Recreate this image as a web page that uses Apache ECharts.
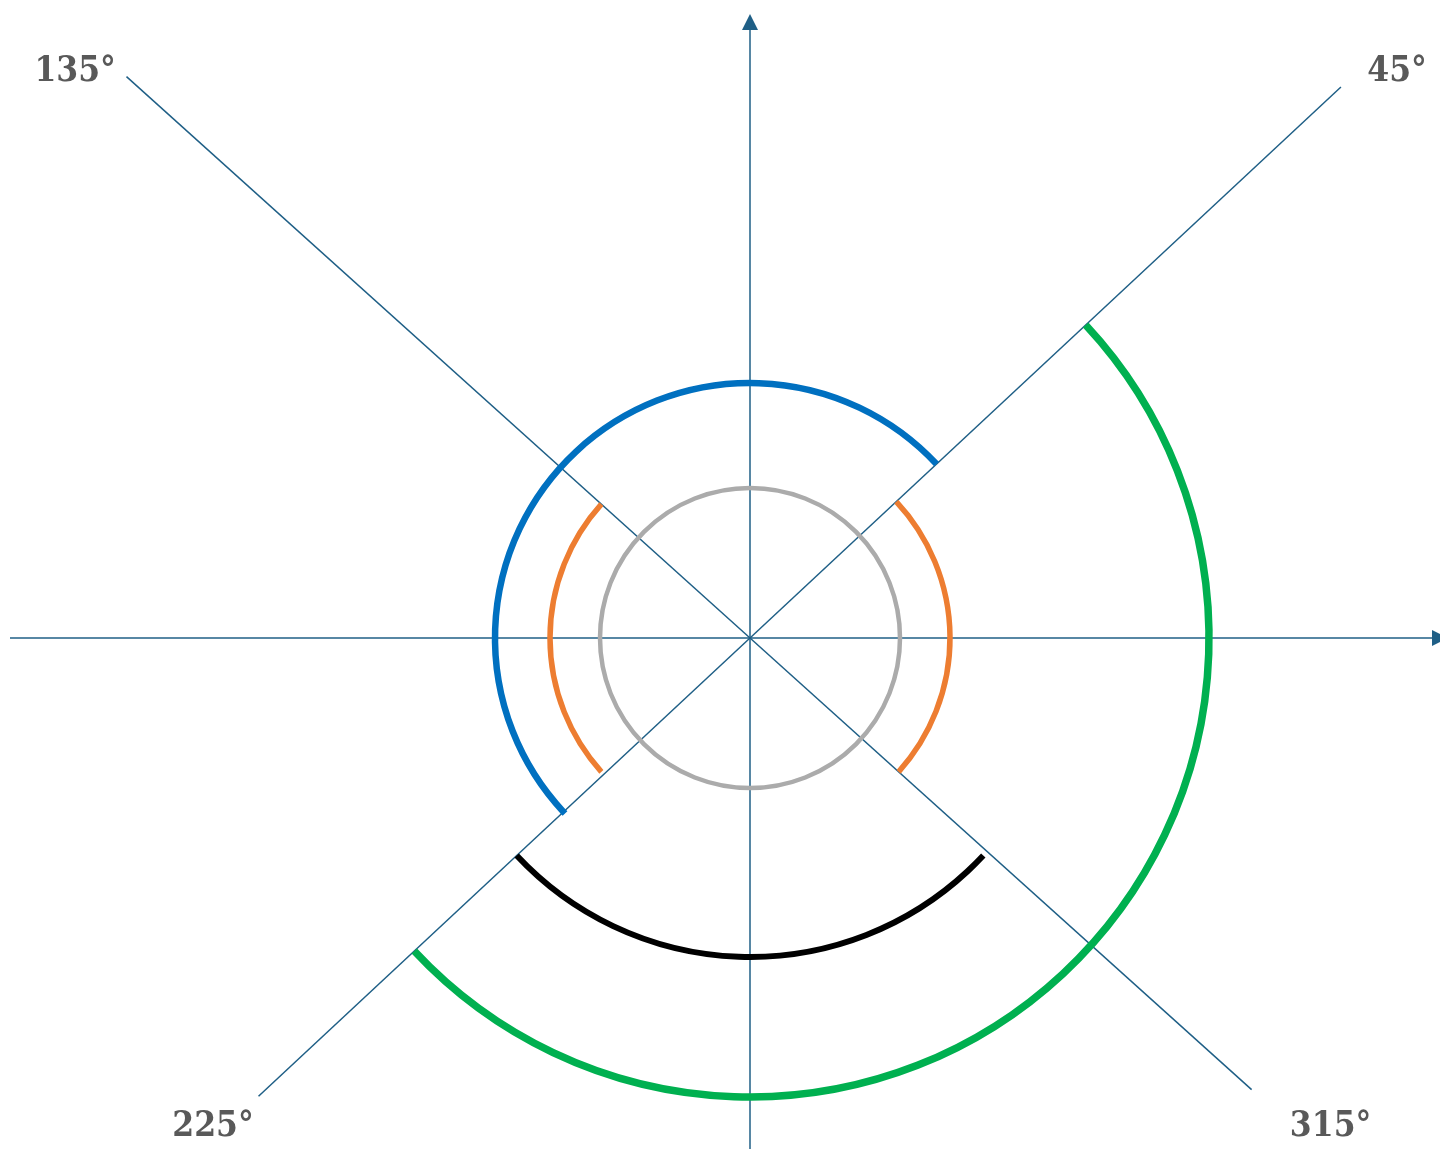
<!DOCTYPE html>
<html>
<head>
<meta charset="utf-8">
<script src="https://cdn.jsdelivr.net/npm/echarts@6/dist/echarts.min.js"></script>
<style>
  html, body { margin: 0; padding: 0; background: #fff; }
  #chart { width: 1440px; height: 1149px; }
</style>
</head>
<body>
<div id="chart"></div>
<script>
// axis rays from the origin: angle (deg, counterclockwise from +x) and length
const rayAngles = [0, 43, 90, 138, 180, 223, 270, 318];
const rayLengths = [698, 808, 624, 839, 740, 672, 511, 675];
const rayArrow = [true, false, true, false, false, false, false, false];

// arcs: radius, start angle, end angle (deg, counterclockwise)
const arcRadius = [150, 200, 200, 255, 319, 459];
const arcFrom = [0, -42, 138, 43, 223, -137];
const arcTo = [360, 43, 222, 223.5, 317, 43];
const arcColors = ["#ababab", "#ed7d31", "#ed7d31", "#0070c0", "#000000", "#00b050"];
const arcWidths = [4.5, 5.5, 5.5, 6.5, 6, 7.5];

// angle labels
const labelText = ["45°", "135°", "225°", "315°"];
const labelAngle = [41.2, 140, 222.3, 319.9];
const labelRadius = [860, 881, 726, 759];

const AXIS = "#1f5f86";
const ARROW = 16;

const chart = echarts.init(document.getElementById("chart"));

chart.setOption({
  animation: false,
  polar: { center: [750, 638], radius: 1000 },
  angleAxis: { type: "value", min: 0, max: 360, startAngle: 0, clockwise: false, show: false },
  radiusAxis: { type: "value", min: 0, max: 1000, show: false },
  series: [
    {
      type: "custom",
      coordinateSystem: "polar",
      silent: true,
      data: rayAngles.map((a, i) => [rayLengths[i], a]),
      renderItem(params, api) {
        const i = params.dataIndex;
        const len = api.value(0);
        const ang = api.value(1);
        const o = api.coord([0, ang]);
        const tip = api.coord([len, ang]);
        const children = [];
        if (rayArrow[i]) {
          const b = api.coord([len - ARROW, ang]);
          const dx = tip[0] - b[0];
          const dy = tip[1] - b[1];
          const L = Math.hypot(dx, dy);
          const nx = (-dy / L) * 8;
          const ny = (dx / L) * 8;
          children.push({
            type: "line",
            shape: { x1: o[0], y1: o[1], x2: b[0], y2: b[1] },
            style: { stroke: AXIS, lineWidth: 1.5 }
          });
          children.push({
            type: "polygon",
            shape: { points: [[tip[0], tip[1]], [b[0] + nx, b[1] + ny], [b[0] - nx, b[1] - ny]] },
            style: { fill: AXIS }
          });
        } else {
          children.push({
            type: "line",
            shape: { x1: o[0], y1: o[1], x2: tip[0], y2: tip[1] },
            style: { stroke: AXIS, lineWidth: 1.5 }
          });
        }
        return { type: "group", children };
      }
    },
    {
      type: "custom",
      coordinateSystem: "polar",
      silent: true,
      data: arcRadius.map((r, i) => [r, arcFrom[i], arcTo[i]]),
      renderItem(params, api) {
        const i = params.dataIndex;
        const s = api.coord([api.value(0), api.value(1)]);
        const t = api.coord([api.value(0), api.value(2)]);
        return {
          type: "arc",
          shape: {
            cx: params.coordSys.cx,
            cy: params.coordSys.cy,
            r: s[2],
            startAngle: -s[3],
            endAngle: -t[3],
            clockwise: false
          },
          style: { stroke: arcColors[i], lineWidth: arcWidths[i], fill: "none" }
        };
      }
    },
    {
      type: "custom",
      coordinateSystem: "polar",
      silent: true,
      data: labelRadius.map((r, i) => [r, labelAngle[i]]),
      renderItem(params, api) {
        const p = api.coord([api.value(0), api.value(1)]);
        return {
          type: "text",
          x: p[0],
          y: p[1],
          style: {
            text: labelText[params.dataIndex],
            fill: "#595959",
            fontSize: 35,
            fontWeight: "bold",
            fontFamily: "'DejaVu Serif Condensed', 'DejaVu Serif', serif",
            align: "center",
            verticalAlign: "middle"
          }
        };
      }
    }
  ]
});
</script>
</body>
</html>
